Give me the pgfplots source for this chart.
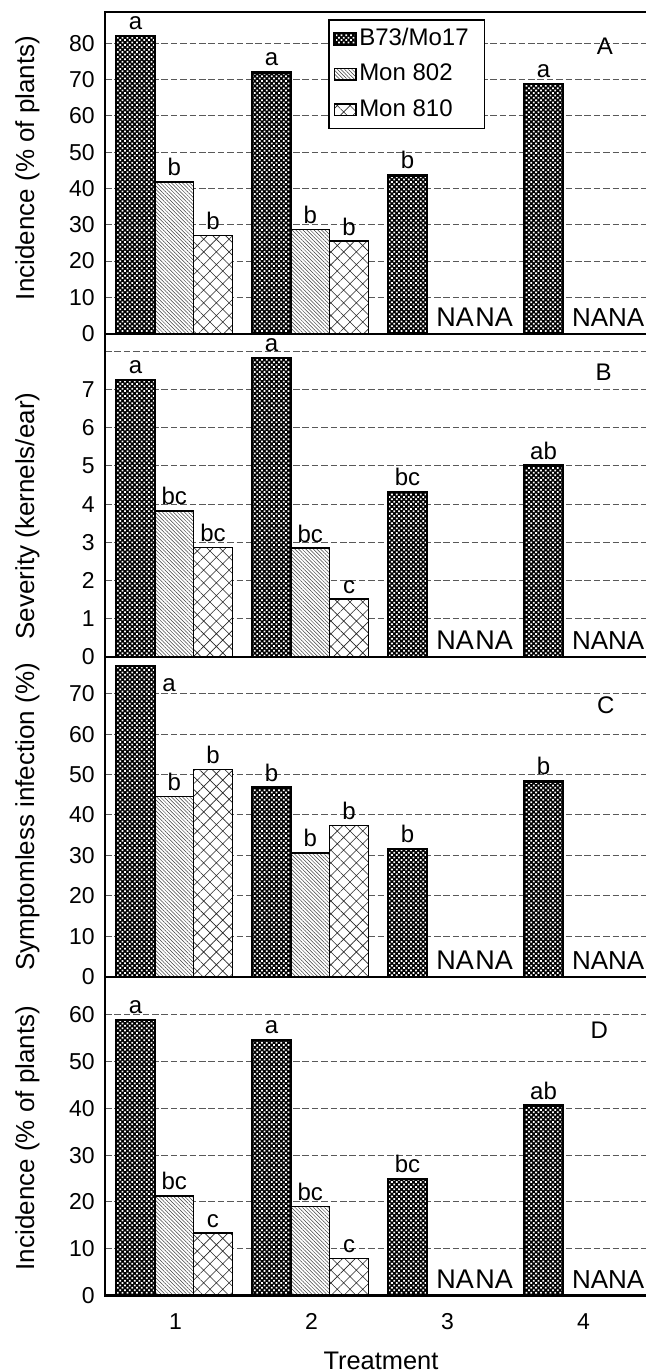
\documentclass[border=0pt]{standalone}
\usepackage{fontspec}
\setmainfont{Liberation Sans}
\usepackage{pgfplots}
\pgfplotsset{compat=1.18}
\usetikzlibrary{patterns.meta}

\pgfplotsset{
  /pgf/number format/assume math mode=true,
  panel/.style={
    scale only axis, width=272.5pt, anchor=south west,
    xmin=0.481, xmax=4.488, ymin=0,
    enlargelimits=false,
    axis line style={draw=none},
    major tick length=0pt,
    ymajorgrids,
    grid style={dash pattern=on 3.3pt off 1.4pt, line width=0.5pt, black!65},
    xtick=\empty,
    yticklabel style={font=\fontsize{11.5}{13}\selectfont, inner sep=0pt, xshift=-5pt},
    ylabel style={font=\fontsize{13}{15}\selectfont, anchor=center},
    clip=false,
    point meta=explicit symbolic,
    nodes near coords,
    every node near coord/.append style={font=\fontsize{12}{14}\selectfont, inner sep=2.5pt, black},
  },
  b73/.style={ybar, bar width=0.285, bar shift=-0.295,
    preaction={fill=black},
    pattern={Dots[distance=1.7pt,angle=45,radius=0.62pt]}, pattern color=white,
    draw=black, line width=1.2pt,
    every node near coord/.append style={xshift=-20.06pt},
    legend image code/.code={\draw[##1] (0pt,-2.9pt) rectangle (10.8pt,2.9pt);}},
  m802/.style={ybar, bar width=0.285, bar shift=-0.01,
    preaction={fill=white},
    pattern={Lines[angle=-45,distance=1.3pt,line width=0.25pt]}, pattern color=black!75,
    draw=black, line width=0.8pt,
    every node near coord/.append style={xshift=-0.68pt},
    legend image code/.code={\draw[##1] (0pt,-2.9pt) rectangle (10.8pt,2.9pt);}},
  m810/.style={ybar, bar width=0.285, bar shift=0.275,
    preaction={fill=white},
    pattern={Hatch[angle=45,distance=4.5pt,line width=0.3pt]}, pattern color=black!85,
    draw=black, line width=0.8pt,
    every node near coord/.append style={xshift=18.7pt},
    legend image code/.code={\draw[##1] (0pt,-2.9pt) rectangle (10.8pt,2.9pt);}},
  na/.style={ybar, bar width=0.285, draw=none, fill=none, forget plot,
    every node near coord/.append style={font=\fontsize{13.5}{15}\selectfont, anchor=base, inner sep=0pt, yshift=3.5pt, xshift=#1}},
  nas/.style={ybar, bar width=0.285, draw=none, fill=none, forget plot,
    every node near coord/.append style={font=\fontsize{13}{15}\selectfont, anchor=base, inner sep=0pt, yshift=3.5pt, xshift=#1}},
}

\newcommand{\frameit}{\draw[line width=1.1pt] (rel axis cs:0,0) rectangle (rel axis cs:1,1);}
\newcommand{\naplots}{%
\addplot[na=3.8pt] coordinates {(3,0)[NA]};
\addplot[na=23.2pt] coordinates {(3,0)[NA]};
\addplot[nas=3.3pt] coordinates {(4,0)[NA]};
\addplot[nas=21.3pt] coordinates {(4,0)[NA]};
}

\begin{document}
\begin{tikzpicture}

% Panel A
\begin{axis}[panel, at={(52.5pt,519.15pt)}, height=161pt, ymax=88.7,
  ytick={0,10,...,80},
  ylabel={Incidence (\% of plants)},
  ylabel style={at={(axis description cs:-0.1422,0.515)}},
  legend style={at={(rel axis cs:0.41,0.976)}, anchor=north west, draw=black, line width=0.8pt,
    font=\fontsize{12}{14}\selectfont, inner xsep=2pt, inner ysep=0.5pt, row sep=0pt,
    cells={anchor=west},
    nodes={inner xsep=1pt, inner ysep=3.1pt, text height=9pt, text depth=2.5pt}},
  ]
\addplot[b73] coordinates {(1,82)[a] (2,72)[a] (3,43.6)[b] (4,68.8)[a]};
\addplot[m802] coordinates {(1,41.8)[b] (2,28.7)[b]};
\addplot[m810] coordinates {(1,27.1)[b] (2,25.5)[b]};
\naplots
\legend{B73/Mo17\hspace*{5pt}, Mon 802, Mon 810}
\node[font=\fontsize{12}{14}\selectfont] at (rel axis cs:0.917,0.892) {A};
\frameit
\end{axis}

% Panel B
\begin{axis}[panel, at={(52.5pt,357.5pt)}, height=161.65pt, ymax=8.46,
  ytick={0,1,...,8}, yticklabels={0,1,2,3,4,5,6,7,{}},
  ylabel={Severity (kernels/ear)},
  ylabel style={at={(axis description cs:-0.1422,0.436)}},
  ]
\addplot[b73] coordinates {(1,7.25)[a] (2,7.83)[a] (3,4.31)[bc] (4,5.01)[ab]};
\addplot[m802] coordinates {(1,3.82)[bc] (2,2.85)[bc]};
\addplot[m810] coordinates {(1,2.87)[bc] (2,1.51)[c]};
\naplots
\node[font=\fontsize{12}{14}\selectfont] at (rel axis cs:0.915,0.882) {B};
\frameit
\end{axis}

% Panel C
\begin{axis}[panel, at={(52.5pt,197.6pt)}, height=159.9pt, ymax=79.06,
  ytick={0,10,...,70},
  ylabel={Symptomless infection (\%)},
  ylabel style={at={(axis description cs:-0.1422,0.5)}},
  ]
\addplot[b73] coordinates {(1,76.9)[\mbox{}] (2,46.8)[b] (3,31.6)[b] (4,48.3)[b]};
\addplot[m802] coordinates {(1,44.6)[b] (2,30.6)[b]};
\addplot[m810] coordinates {(1,51.2)[b] (2,37.4)[b]};
\naplots
\node[font=\fontsize{12}{14}\selectfont, anchor=base] at (axis cs:0.951,70.5) {a};
\node[font=\fontsize{12}{14}\selectfont] at (rel axis cs:0.919,0.85) {C};
\frameit
\end{axis}

% Panel D
\begin{axis}[panel, at={(52.5pt,38.25pt)}, height=159.35pt, ymax=68.1,
  ytick={0,10,...,60},
  xtick={1,2,3,4}, xticklabels={1,2,3,4},
  xticklabel style={font=\fontsize{11.5}{13}\selectfont, inner sep=0pt, anchor=north, yshift=-8.75pt},
  xlabel={Treatment},
  xlabel style={font=\fontsize{12.7}{15}\selectfont, at={(axis description cs:0.5064,0)}, anchor=north, inner sep=0pt, yshift=-28.1pt},
  ylabel={Incidence (\% of plants)},
  ylabel style={at={(axis description cs:-0.1422,0.494)}},
  ]
\addplot[b73] coordinates {(1,58.9)[a] (2,54.6)[a] (3,24.9)[bc] (4,40.6)[ab]};
\addplot[m802] coordinates {(1,21.3)[bc] (2,19.0)[bc]};
\addplot[m810] coordinates {(1,13.3)[c] (2,7.9)[c]};
\naplots
\node[font=\fontsize{12}{14}\selectfont] at (rel axis cs:0.907,0.833) {D};
\frameit
\end{axis}

\pgfresetboundingbox
\path[use as bounding box] (0,0) rectangle (323pt,686pt);
\end{tikzpicture}
\end{document}
